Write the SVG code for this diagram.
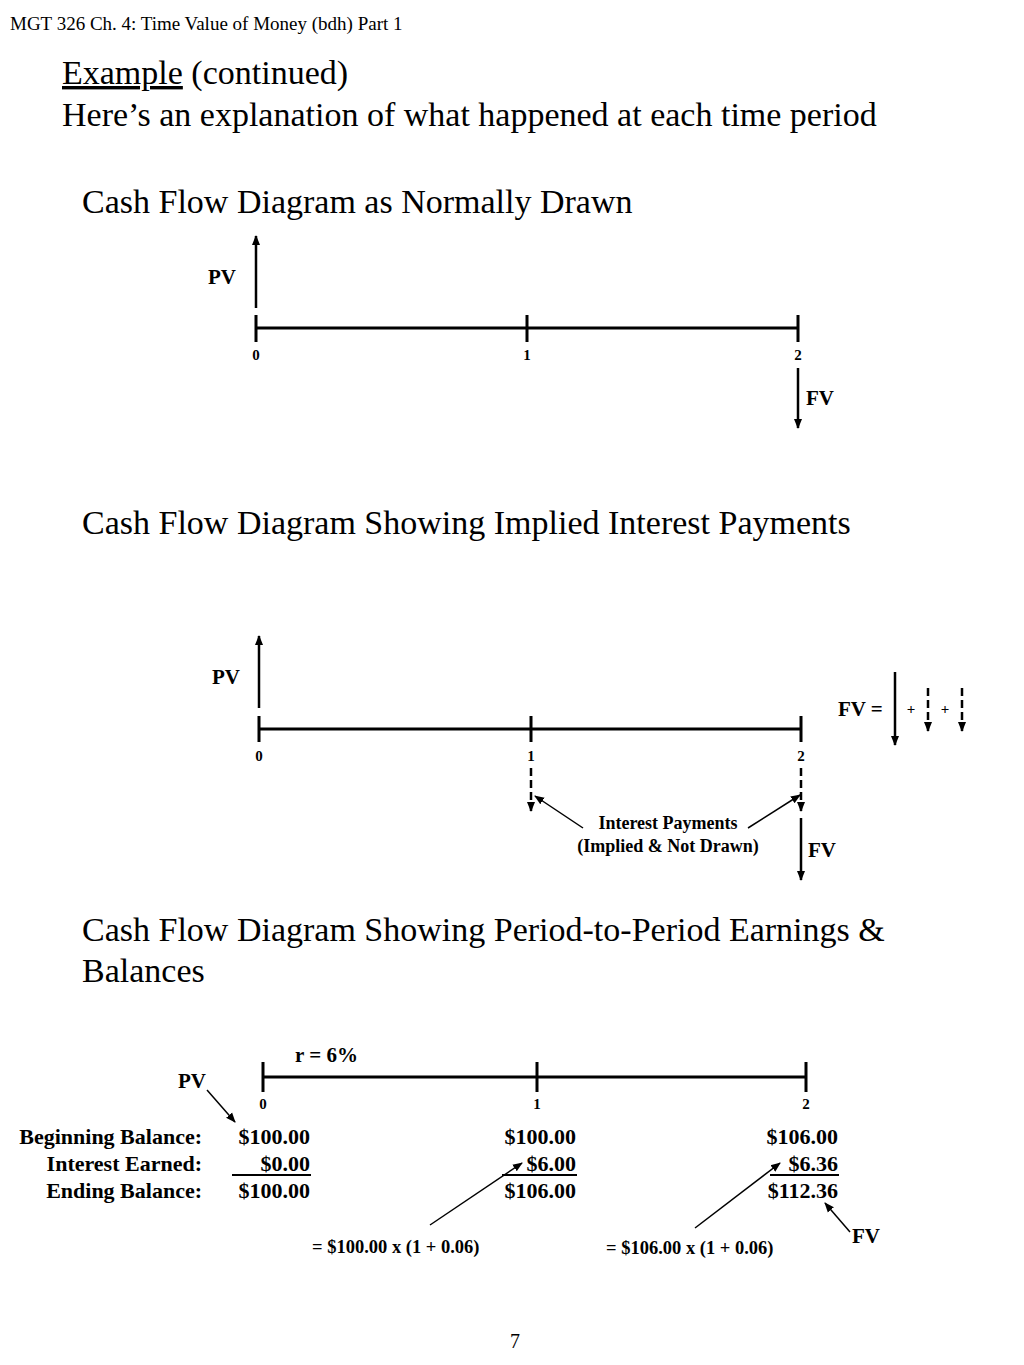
<svg xmlns="http://www.w3.org/2000/svg" width="1024" height="1365" viewBox="0 0 1024 1365">
<defs>
<marker id="ah" markerWidth="10" markerHeight="10" refX="9" refY="5" orient="auto" markerUnits="userSpaceOnUse"><path d="M0,1 L10,5 L0,9 Z" fill="#000"/></marker>
<style>
text{font-family:"Liberation Serif","Times New Roman",serif;fill:#000}
.h{font-size:34px}
.b{font-weight:bold;font-size:21px}
.s{font-weight:bold;font-size:18px}
.z{font-weight:bold;font-size:15px}
.f{font-weight:bold;font-size:18.5px}
.m{font-weight:bold;font-size:22px}
.ln{stroke:#000;stroke-width:3;fill:none}
.ar{stroke:#000;stroke-width:2.5;fill:none;marker-end:url(#ah)}
.da{stroke:#000;stroke-width:2.5;fill:none;stroke-dasharray:8,4;marker-end:url(#ah)}
.th{stroke:#000;stroke-width:1.5;fill:none;marker-end:url(#ah)}
</style>
</defs>
<rect width="1024" height="1365" fill="#fff"/>
<text x="10" y="30" font-size="19">MGT 326  Ch. 4: Time Value of Money (bdh) Part 1</text>
<text x="62" y="84" class="h"><tspan text-decoration="underline">Example</tspan> (continued)</text>
<text x="62" y="126" class="h">Here’s an explanation of what happened at each time period</text>
<text x="82" y="213" class="h">Cash Flow Diagram as Normally Drawn</text>
<text x="82" y="534" class="h">Cash Flow Diagram Showing Implied Interest Payments</text>
<text x="82" y="941" class="h">Cash Flow Diagram Showing Period-to-Period Earnings &amp;</text>
<text x="82" y="982" class="h">Balances</text>
<g id="d1">
<path class="ln" d="M256,328H798M256,315V342M527,315V342M798,315V342"/>
<path class="ar" d="M256,308V236"/>
<path class="ar" d="M798,368V428"/>
<text x="208" y="284" class="b">PV</text>
<text x="256" y="360" class="z" text-anchor="middle">0</text>
<text x="527" y="360" class="z" text-anchor="middle">1</text>
<text x="798" y="360" class="z" text-anchor="middle">2</text>
<text x="806" y="405" class="b">FV</text>
</g>
<g id="d2">
<path class="ln" d="M259,729H801M259,716V742M531,716V742M801,716V742"/>
<path class="ar" d="M259,708V636"/>
<path class="da" d="M531,768V811"/>
<path class="da" d="M801,768V811"/>
<path class="ar" d="M801,818V880"/>
<path class="th" d="M583,828L535,796"/>
<path class="th" d="M748,828L800,795"/>
<text x="212" y="684" class="b">PV</text>
<text x="259" y="761" class="z" text-anchor="middle">0</text>
<text x="531" y="761" class="z" text-anchor="middle">1</text>
<text x="801" y="761" class="z" text-anchor="middle">2</text>
<text x="808" y="857" class="b">FV</text>
<text x="668" y="829" class="s" text-anchor="middle">Interest Payments</text>
<text x="668" y="852" class="s" text-anchor="middle">(Implied &amp; Not Drawn)</text>
<text x="838" y="716" class="b">FV =</text>
<path class="ar" d="M895,672V745"/>
<text x="911" y="714" class="z" text-anchor="middle">+</text>
<path class="da" d="M928,688V731"/>
<text x="945" y="714" class="z" text-anchor="middle">+</text>
<path class="da" d="M962,688V731"/>
</g>
<g id="d3">
<path class="ln" d="M263,1077H806M263,1062V1092M537,1062V1092M806,1062V1092"/>
<text x="295" y="1062" class="b">r = 6%</text>
<text x="178" y="1088" class="b">PV</text>
<path class="th" d="M207,1090L235,1122"/>
<text x="263" y="1109" class="z" text-anchor="middle">0</text>
<text x="537" y="1109" class="z" text-anchor="middle">1</text>
<text x="806" y="1109" class="z" text-anchor="middle">2</text>
<text x="202" y="1144" class="m" text-anchor="end">Beginning Balance:</text>
<text x="202" y="1171" class="m" text-anchor="end">Interest Earned:</text>
<text x="202" y="1198" class="m" text-anchor="end">Ending Balance:</text>
<text x="310" y="1144" class="m" text-anchor="end">$100.00</text>
<text x="310" y="1171" class="m" text-anchor="end">$0.00</text>
<text x="310" y="1198" class="m" text-anchor="end">$100.00</text>
<text x="576" y="1144" class="m" text-anchor="end">$100.00</text>
<text x="576" y="1171" class="m" text-anchor="end">$6.00</text>
<text x="576" y="1198" class="m" text-anchor="end">$106.00</text>
<text x="838" y="1144" class="m" text-anchor="end">$106.00</text>
<text x="838" y="1171" class="m" text-anchor="end">$6.36</text>
<text x="838" y="1198" class="m" text-anchor="end">$112.36</text>
<path stroke="#000" stroke-width="2" d="M232,1175H311M502,1175H577M770,1175H839"/>
<path class="th" d="M430,1225L522,1163"/>
<path class="th" d="M695,1228L780,1163"/>
<path class="th" d="M850,1232L825,1203"/>
<text x="312" y="1253" class="f">= $100.00 x (1 + 0.06)</text>
<text x="606" y="1254" class="f">= $106.00 x (1 + 0.06)</text>
<text x="852" y="1243" class="b">FV</text>
</g>
<text x="515" y="1348" font-size="20" text-anchor="middle">7</text>
</svg>
